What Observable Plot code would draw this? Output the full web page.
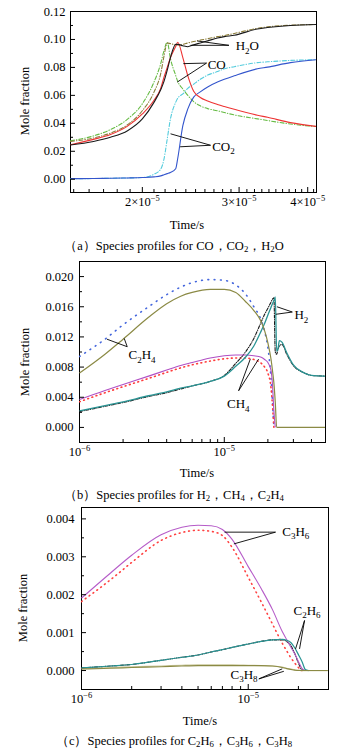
<!DOCTYPE html>
<html><head><meta charset="utf-8">
<script src="https://cdn.jsdelivr.net/npm/d3@7"></script>
<script src="https://cdn.jsdelivr.net/npm/@observablehq/plot@0.6"></script>
<style>
html,body{margin:0;padding:0;background:#fff;}
body{width:359px;height:752px;position:relative;overflow:hidden;font-family:"Liberation Serif","Times New Roman",serif;color:#000;}
.panel{position:absolute;left:0;}
.ylab{position:absolute;width:120px;height:16px;line-height:16px;text-align:center;font-size:12.5px;transform:rotate(-90deg);transform-origin:50% 50%;}
.xlab{position:absolute;width:100px;height:16px;line-height:16px;text-align:center;font-size:12.5px;}
.cap{position:absolute;left:0;width:348px;height:16px;line-height:16px;text-align:center;font-size:12.5px;white-space:nowrap;}
.cap sub{font-size:0.7em;vertical-align:-0.25em;line-height:0;}
</style>
</head><body>
<div id="root"></div>
<script>
// ---------------- Panel (a): CO, CO2, H2O ----------------
const tA = [1.48e-5, 1.63e-5, 1.75e-5, 1.88e-5, 2.0e-5, 2.1e-5, 2.16e-5, 2.19e-5, 2.22e-5, 2.25e-5, 2.3e-5, 2.32e-5, 2.37e-5, 2.42e-5, 2.48e-5, 2.55e-5, 2.63e-5, 2.74e-5, 2.82e-5, 2.94e-5, 3.24e-5, 3.38e-5, 3.72e-5, 4.15e-5];
const coSolid  = [0.0247, 0.0285, 0.032, 0.038, 0.0467, 0.0565, 0.065, 0.073, 0.080, 0.087, 0.095, 0.098, 0.087, 0.074, 0.063, 0.0585, 0.056, 0.0535, 0.052, 0.050, 0.0458, 0.0443, 0.0405, 0.0378];
const coDash   = [0.0275, 0.031, 0.0355, 0.043, 0.054, 0.0695, 0.0827, 0.092, 0.098, 0.0863, 0.0743, 0.070, 0.0645, 0.060, 0.0555, 0.0525, 0.0505, 0.049, 0.0477, 0.046, 0.0432, 0.042, 0.0395, 0.0377];
const h2oSolid = [0.0245, 0.027, 0.030, 0.0347, 0.0431, 0.055, 0.064, 0.070, 0.078, 0.087, 0.0965, 0.0965, 0.0955, 0.0948, 0.0962, 0.0975, 0.099, 0.101, 0.102, 0.103, 0.1075, 0.1085, 0.110, 0.1107];
const h2oDash  = [0.027, 0.0295, 0.033, 0.039, 0.049, 0.0623, 0.0755, 0.088, 0.0975, 0.097, 0.0962, 0.096, 0.0965, 0.0975, 0.0985, 0.0995, 0.1005, 0.102, 0.1028, 0.1043, 0.108, 0.109, 0.1102, 0.1107];
const co2Solid = [0.0004, 0.0005, 0.0007, 0.0009, 0.0012, 0.0017, 0.0024, 0.0032, 0.004, 0.0048, 0.0075, 0.015, 0.0383, 0.0503, 0.0587, 0.0625, 0.066, 0.0695, 0.0715, 0.074, 0.079, 0.0802, 0.0834, 0.0855];
const co2Dash  = [0.0004, 0.0005, 0.0007, 0.0009, 0.0012, 0.0036, 0.0072, 0.0144, 0.0288, 0.0431, 0.055, 0.058, 0.061, 0.065, 0.068, 0.0715, 0.0745, 0.077, 0.079, 0.0805, 0.0834, 0.084, 0.085, 0.0855];
const xMajorA = [2e-5, 3e-5, 4e-5];
const xMinorA = [1.5e-5,1.6e-5,1.7e-5,1.8e-5,1.9e-5,2.1e-5,2.2e-5,2.3e-5,2.4e-5,2.5e-5,2.6e-5,2.7e-5,2.8e-5,2.9e-5,3.1e-5,3.2e-5,3.3e-5,3.4e-5,3.5e-5,3.6e-5,3.7e-5,3.8e-5,3.9e-5,4.1e-5];
const yMajorA = [0, 0.02, 0.04, 0.06, 0.08, 0.10, 0.12];
const yMinorA = [0.01, 0.03, 0.05, 0.07, 0.09, 0.11];
const labelsA = [{t: 2.957e-5, v: 0.0951, label: "H2O"}, {t: 2.63e-5, v: 0.0822, label: "CO"}, {t: 2.68e-5, v: 0.0232, label: "CO2"}];
const linksA = [
  {t1: 2.875e-5, v1: 0.0958, t2: 2.518e-5, v2: 0.0989}, {t1: 2.875e-5, v1: 0.0958, t2: 2.448e-5, v2: 0.0958},
  {t1: 2.618e-5, v1: 0.0831, t2: 2.375e-5, v2: 0.0827}, {t1: 2.618e-5, v1: 0.0831, t2: 2.315e-5, v2: 0.0695},
  {t1: 2.662e-5, v1: 0.0243, t2: 2.251e-5, v2: 0.0325}, {t1: 2.662e-5, v1: 0.0243, t2: 2.343e-5, v2: 0.0232}
];

// ---------------- Panel (b): H2, CH4, C2H4 ----------------
const tB = [1e-6, 1.5e-6, 2e-6, 3e-6, 4e-6, 5e-6, 6e-6, 8e-6, 1e-5, 1.2e-5, 1.4e-5, 1.6e-5, 1.8e-5, 1.9e-5, 2.0e-5, 2.1e-5, 2.15e-5, 2.2e-5, 2.25e-5, 2.3e-5, 2.35e-5, 2.4e-5, 2.5e-5, 2.7e-5, 3e-5, 3.5e-5, 4e-5, 5e-5];
const c2h4Solid = [0.0072, 0.0097, 0.0117, 0.0146, 0.0164, 0.0174, 0.0179, 0.0183, 0.0183, 0.0179, 0.0167, 0.0155, 0.0140, 0.0128, 0.0112, 0.0091, 0.0076, 0.0059, 0.0033, 0, 0, 0, 0, 0, 0, 0, 0, 0];
const c2h4Dot   = [0.0094, 0.0117, 0.0136, 0.0160, 0.0176, 0.0186, 0.0192, 0.0196, 0.0195, 0.0189, 0.0177, 0.0160, 0.0142, 0.0127, 0.0106, 0.0066, 0.0035, 0, null, null, null, null, null, null, null, null, null, null];
const h2Solid   = [0.0022, 0.0029, 0.0034, 0.0042, 0.0047, 0.0052, 0.0055, 0.0061, 0.0068, 0.0081, 0.0093, 0.0108, 0.0128, 0.0138, 0.0149, 0.0159, 0.0164, 0.0168, 0.0173, 0.0101, 0.0104, 0.0115, 0.0113, 0.0099, 0.0083, 0.0073, 0.0069, 0.0068];
const h2Dash    = [0.0021, 0.0028, 0.0033, 0.0041, 0.0046, 0.0051, 0.0055, 0.0061, 0.0069, 0.0085, 0.0100, 0.0118, 0.0140, 0.0150, 0.0158, 0.0166, 0.0170, 0.0172, 0.0100, 0.0097, 0.0104, 0.0108, 0.0110, 0.0097, 0.0082, 0.0073, 0.0069, 0.0068];
const ch4Solid  = [0.0037, 0.0049, 0.0057, 0.0068, 0.0076, 0.0082, 0.0086, 0.0092, 0.0095, 0.0096, 0.0096, 0.0095, 0.0093, 0.0090, 0.0086, 0.0076, 0.0058, 0.0022, 0, null, null, null, null, null, null, null, null, null];
const ch4Dot    = [0.0034, 0.0046, 0.0054, 0.0065, 0.0073, 0.0079, 0.0083, 0.0088, 0.0091, 0.0092, 0.0092, 0.0090, 0.0085, 0.0080, 0.0072, 0.0053, 0.0030, 0, null, null, null, null, null, null, null, null, null, null];
const xMajorB = [1e-6, 1e-5];
const xMinorB = [2e-6, 3e-6, 4e-6, 5e-6, 6e-6, 7e-6, 8e-6, 9e-6, 2e-5, 3e-5, 4e-5];
const yMajorB = [0, 0.004, 0.008, 0.012, 0.016, 0.020];
const yMinorB = [0.002, 0.006, 0.010, 0.014, 0.018];
const labelsB = [{t: 2.18e-6, v: 0.0096, label: "C2H4"}, {t: 3.05e-5, v: 0.0149, label: "H2"}, {t: 1.044e-5, v: 0.0031, label: "CH4"}];
const linksB = [
  {t1: 2.136e-6, v1: 0.0107, t2: 1.547e-6, v2: 0.0117}, {t1: 2.136e-6, v1: 0.0107, t2: 2.036e-6, v2: 0.0118},
  {t1: 2.95e-5, v1: 0.0153, t2: 2.31e-5, v2: 0.0160}, {t1: 2.95e-5, v1: 0.0153, t2: 2.27e-5, v2: 0.0150},
  {t1: 1.256e-5, v1: 0.00486, t2: 1.512e-5, v2: 0.00906}, {t1: 1.256e-5, v1: 0.00486, t2: 1.726e-5, v2: 0.00906}
];

// ---------------- Panel (c): C2H6, C3H6, C3H8 ----------------
const tC = [1e-6, 1.5e-6, 2e-6, 3e-6, 4e-6, 5e-6, 6e-6, 7e-6, 8e-6, 1e-5, 1.2e-5, 1.4e-5, 1.6e-5, 1.7e-5, 1.8e-5, 1.9e-5, 2.0e-5, 2.1e-5, 2.2e-5, 2.3e-5, 2.5e-5, 3e-5];
const c3h6Solid = [0.00191, 0.00258, 0.00304, 0.00358, 0.00378, 0.00383, 0.00382, 0.00372, 0.00346, 0.00274, 0.00215, 0.00160, 0.00103, 0.00082, 0.00062, 0.00044, 0.00024, 0.00006, 0, null, null, null];
const c3h6Dot   = [0.00182, 0.00240, 0.00285, 0.00343, 0.00364, 0.00370, 0.00367, 0.00356, 0.00325, 0.00246, 0.00180, 0.00122, 0.00072, 0.00052, 0.00034, 0.00020, 0.00008, 0, null, null, null, null];
const c2h6Solid = [0.00007, 0.00012, 0.00016, 0.00027, 0.00035, 0.00041, 0.00049, 0.00055, 0.00061, 0.00070, 0.00077, 0.00081, 0.00082, 0.00080, 0.00074, 0.00060, 0.00042, 0.00024, 0.00003, 0, null, null];
const c2h6Dash  = [0.00007, 0.00012, 0.00016, 0.00027, 0.00035, 0.00041, 0.00049, 0.00055, 0.00061, 0.00070, 0.00077, 0.00081, 0.00081, 0.00077, 0.00066, 0.00045, 0.00020, 0.00002, 0, null, null, null];
const c3h8Solid = [0.00004, 0.00006, 0.00008, 0.00010, 0.00012, 0.00013, 0.00013, 0.00013, 0.00013, 0.00013, 0.00013, 0.00012, 0.00008, 0.00005, 0.00003, 0.00001, 0, 0, 0, 0, 0, 0];
const c3h8Light = [0.00005, 0.00008, 0.00010, 0.00012, 0.00014, 0.00015, 0.00015, 0.00015, 0.00015, 0.00014, 0.00013, 0.00012, 0.00009, 0.00006, 0.00004, 0.00002, 0.00001, 0, 0, 0, 0, 0];
const xMajorC = [1e-6, 1e-5];
const xMinorC = [2e-6, 3e-6, 4e-6, 5e-6, 6e-6, 7e-6, 8e-6, 9e-6, 2e-5];
const yMajorC = [0, 0.001, 0.002, 0.003, 0.004];
const yMinorC = [0.0005, 0.0015, 0.0025, 0.0035];
const labelsC = [{t: 1.6e-5, v: 0.00367, label: "C3H6"}, {t: 1.87e-5, v: 0.00158, label: "C2H6"}, {t: 7.83e-6, v: -0.00011, label: "C3H8"}];
const linksC = [
  {t1: 1.458e-5, v1: 0.00365, t2: 7.21e-6, v2: 0.00365}, {t1: 1.458e-5, v1: 0.00365, t2: 8.2e-6, v2: 0.00334},
  {t1: 2.177e-5, v1: 0.00132, t2: 1.922e-5, v2: 0.00057}, {t1: 2.177e-5, v1: 0.00132, t2: 2.031e-5, v2: 0.00057},
  {t1: 1.158e-5, v1: -0.00022, t2: 1.6e-5, v2: 0.000045}, {t1: 1.158e-5, v1: -0.00022, t2: 1.635e-5, v2: -0.00002}
];

// ---------------- drawing ----------------
const FONT = "'Liberation Serif','Times New Roman',serif";
const rows = (ts, vs) => ts.map((t, i) => ({t, v: vs[i]}));
const sciFmt = d => { const e = Math.floor(Math.log10(d) + 1e-9); const m = Math.round(d / Math.pow(10, e)); return (m === 1 ? "" : m + "×") + "10^" + e; };

function makePanel(cfg) {
  const marks = [Plot.frame({stroke: "black", strokeWidth: 1})];
  for (const s of cfg.series) {
    marks.push(Plot.line(rows(cfg.t, s.values), {x: "t", y: "v", stroke: s.color, strokeWidth: s.width || 1.1, strokeDasharray: s.dash, strokeLinecap: s.dash ? "round" : "butt", curve: "monotone-x", clip: true}));
  }
  marks.push(Plot.link(cfg.links, {x1: "t1", y1: "v1", x2: "t2", y2: "v2", stroke: "black", strokeWidth: 0.9}));
  marks.push(Plot.text(cfg.labels, {x: "t", y: "v", text: "label", textAnchor: "start", fontSize: 13, fill: "black"}));
  marks.push(Plot.axisX({ticks: cfg.xMajor, tickSize: -5, tickPadding: 9.5, tickFormat: sciFmt, label: null}));
  marks.push(Plot.axisX({ticks: cfg.xMinor, tickSize: -3, tickFormat: () => "", label: null}));
  marks.push(Plot.axisY({ticks: cfg.yMajor, tickSize: -5, tickPadding: cfg.yPad, tickFormat: d3.format(cfg.yFmt), label: null}));
  marks.push(Plot.axisY({ticks: cfg.yMinor, tickSize: -3, tickFormat: () => "", label: null}));
  const svg = Plot.plot({
    width: 359, height: cfg.height,
    marginLeft: cfg.marginLeft, marginRight: cfg.marginRight, marginTop: 11, marginBottom: cfg.height - 11 - cfg.plotH,
    style: {fontFamily: FONT, fontSize: "12.5px", color: "black", background: "transparent", overflow: "visible"},
    x: {type: "log", domain: cfg.xDomain, label: null},
    y: {domain: cfg.yDomain, label: null},
    marks
  });
  d3.select(svg).selectAll('g[aria-label="text"] text').each(function () {
    const s = this.textContent; const parts = s.match(/[A-Za-z]+|\d+/g) || [s];
    this.textContent = ""; let low = false;
    for (const p of parts) {
      const isNum = /^\d+$/.test(p);
      const ts = d3.select(this).append("tspan").text(p);
      if (isNum && !low) { ts.attr("dy", 3.5).attr("font-size", 9); low = true; }
      else if (!isNum && low) { ts.attr("dy", -3.5); low = false; }
    }
  });
  d3.select(svg).selectAll('g[aria-label="x-axis tick label"] text').each(function () {
    const s = this.textContent; if (!s.includes("^")) return;
    const [base, ex] = s.split("^");
    this.textContent = "";
    d3.select(this).append("tspan").text(base);
    d3.select(this).append("tspan").attr("dy", -5).attr("font-size", 8.5).text(ex.replace("-", "\u2212"));
  });
  const div = document.createElement("div");
  div.className = "panel"; div.style.top = cfg.top + "px";
  div.appendChild(svg);
  document.getElementById("root").appendChild(div);
}

function addText(cls, html, left, top) {
  const d = document.createElement("div"); d.className = cls; d.innerHTML = html;
  if (left !== null) d.style.left = left + "px"; d.style.top = top + "px";
  document.getElementById("root").appendChild(d);
}

makePanel({
  top: 0, height: 215, plotH: 181, marginLeft: 70, marginRight: 43,
  xDomain: [1.48e-5, 4.15e-5], yDomain: [-0.0095, 0.12], t: tA,
  xMajor: xMajorA, xMinor: xMinorA, yMajor: yMajorA, yMinor: yMinorA, yFmt: ".2f", yPad: 10,
  labels: labelsA, links: linksA,
  series: [
    {values: coDash, color: "#66bb44", dash: "4,2,0.5,2"},
    {values: h2oDash, color: "#8c7d3a", dash: "4,2,0.5,2"},
    {values: co2Dash, color: "#55ccdd", dash: "4,2,0.5,2"},
    {values: co2Solid, color: "#3355cc"},
    {values: coSolid, color: "#ee3333"},
    {values: h2oSolid, color: "#1a1a1a"}
  ]
});
makePanel({
  top: 250, height: 215, plotH: 181, marginLeft: 79, marginRight: 34,
  xDomain: [1e-6, 5e-5], yDomain: [-0.002, 0.022], t: tB,
  xMajor: xMajorB, xMinor: xMinorB, yMajor: yMajorB, yMinor: yMinorB, yFmt: ".3f", yPad: 11,
  labels: labelsB, links: linksB,
  series: [
    {values: c2h4Dot, color: "#4466dd", dash: "0.8,5.5", width: 1.6},
    {values: ch4Dot, color: "#ff3b3b", dash: "0.8,3.6", width: 1.6},
    {values: h2Dash, color: "#1a1a1a", dash: "3,1.5,0.5,1.5"},
    {values: ch4Solid, color: "#b04fc4"},
    {values: h2Solid, color: "#2a9494", width: 1.3},
    {values: c2h4Solid, color: "#8b8a45", width: 1.2}
  ]
});
makePanel({
  top: 496, height: 216, plotH: 182, marginLeft: 81, marginRight: 31,
  xDomain: [1e-6, 3.03e-5], yDomain: [-0.0005, 0.0043], t: tC,
  xMajor: xMajorC, xMinor: xMinorC, yMajor: yMajorC, yMinor: yMinorC, yFmt: ".3f", yPad: 12,
  labels: labelsC, links: linksC,
  series: [
    {values: c3h6Dot, color: "#ff4040", dash: "0.8,4", width: 1.6},
    {values: c3h8Light, color: "#c9c79a", width: 1.2},
    {values: c2h6Dash, color: "#1a1a1a", dash: "3,1.5,0.5,1.5"},
    {values: c3h6Solid, color: "#b65cc8"},
    {values: c2h6Solid, color: "#2a9494", width: 1.2},
    {values: c3h8Solid, color: "#8b8a45", width: 1.1}
  ]
});

addText("ylab", "Mole fraction", -35, 93);
addText("ylab", "Mole fraction", -35, 354);
addText("ylab", "Mole fraction", -37, 600);
addText("xlab", "Time/s", 137, 217);
addText("xlab", "Time/s", 147, 465);
addText("xlab", "Time/s", 150, 713);
addText("cap", "（a）Species profiles for CO，CO<sub>2</sub>，H<sub>2</sub>O", null, 238);
addText("cap", "（b）Species profiles for H<sub>2</sub>，CH<sub>4</sub>，C<sub>2</sub>H<sub>4</sub>", null, 487);
addText("cap", "（c）Species profiles for C<sub>2</sub>H<sub>6</sub>，C<sub>3</sub>H<sub>6</sub>，C<sub>3</sub>H<sub>8</sub>", null, 733);
</script>
</body></html>
